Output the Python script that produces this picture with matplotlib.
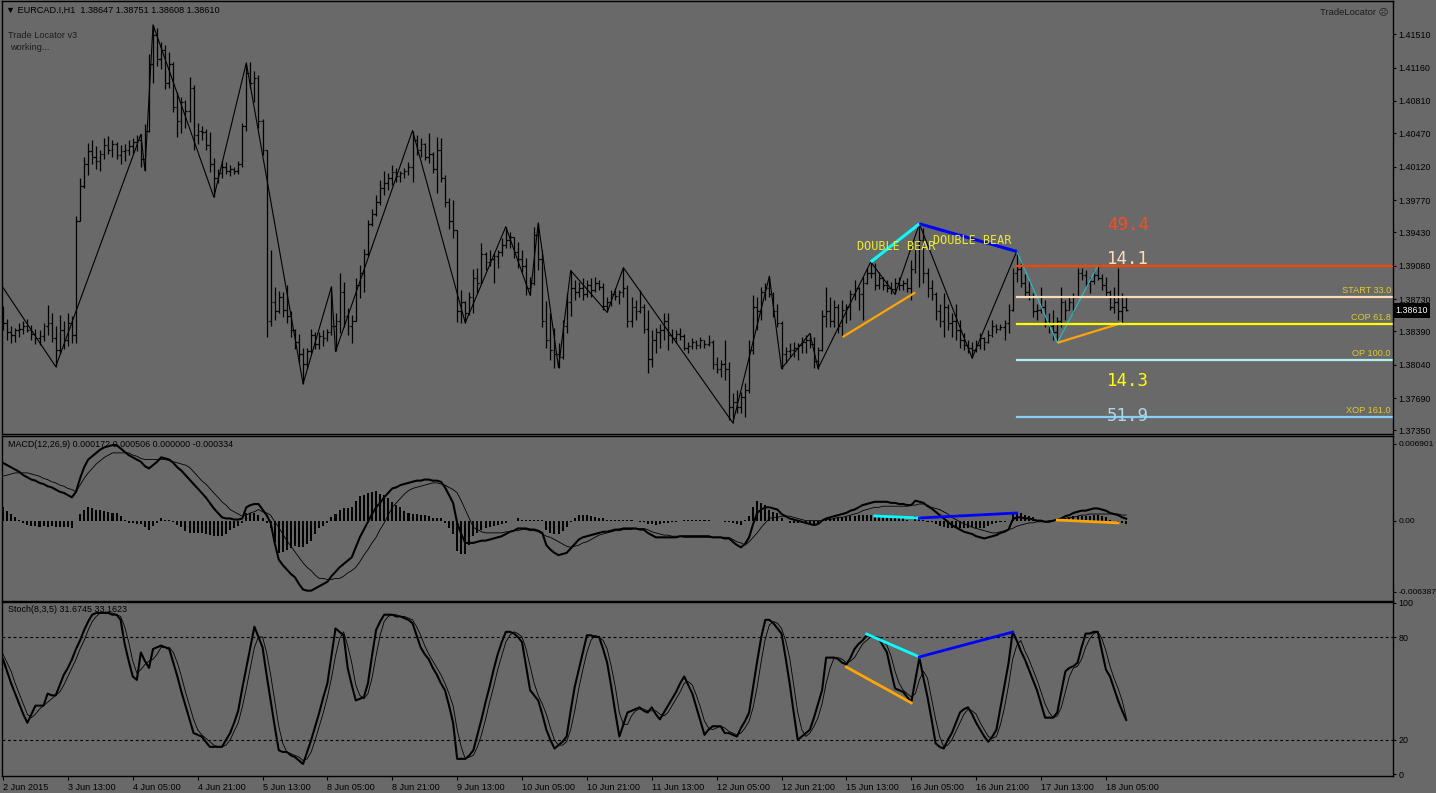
import numpy as np
import matplotlib.pyplot as plt
from matplotlib.collections import LineCollection
from matplotlib.transforms import blended_transform_factory

W, H = 1436, 793
BG = '#696969'

# ---- price data, in pips above 1.3000 (861.0 -> 1.38610), one entry per H1 bar
highs_pips = [
    866, 852, 845, 843, 848, 850, 852, 846, 842, 840,
    848, 867, 858, 845, 856, 850, 858, 855, 960, 1000,
    1022, 1037, 1040, 1034, 1030, 1042, 1044, 1040, 1038, 1035,
    1036, 1040, 1042, 1045, 1046, 1057, 1130, 1161, 1158, 1143,
    1140, 1132, 1122, 1090, 1085, 1082, 1106, 1098, 1058, 1055,
    1052, 1048, 1021, 1010, 1019, 1017, 1014, 1012, 1018, 1058,
    1121, 1122, 1112, 1108, 1062, 1030, 924, 886, 881, 880,
    888, 860, 842, 836, 822, 822, 842, 838, 838, 841,
    842, 886, 858, 900, 891, 864, 856, 895, 909, 926,
    956, 968, 982, 998, 1008, 1005, 1014, 1011, 1008, 1011,
    1017, 1050, 1045, 1042, 1037, 1047, 1027, 1043, 1042, 1003,
    979, 977, 946, 882, 871, 880, 905, 906, 932, 922,
    924, 921, 925, 937, 949, 943, 938, 933, 924, 916,
    896, 949, 953, 924, 871, 858, 843, 827, 851, 879,
    903, 893, 891, 895, 893, 895, 896, 893, 890, 875,
    882, 885, 883, 906, 888, 875, 872, 882, 868, 861,
    840, 843, 847, 858, 858, 842, 840, 843, 836, 828,
    832, 830, 833, 830, 835, 830, 812, 809, 830, 807,
    774, 777, 775, 785, 830, 877, 875, 886, 890, 897,
    880, 868, 850, 823, 827, 828, 827, 833, 835, 837,
    833, 823, 861, 886, 875, 872, 868, 872, 868, 882,
    893, 886, 896, 906, 912, 911, 901, 896, 893, 891,
    895, 896, 893, 895, 914, 935, 952, 948, 906, 893,
    880, 868, 879, 868, 858, 868, 851, 837, 830, 828,
    830, 837, 833, 840, 851, 847, 847, 851, 868, 906,
    923, 913, 899, 893, 879, 868, 886, 872, 858, 861,
    854, 886, 872, 875, 879, 906, 906, 903, 896, 903,
    908, 899, 896, 882, 886, 906, 879, 875.1]
lows_pips = [
    840, 830, 827, 828, 833, 836, 838, 830, 826, 825,
    829, 835, 828, 802, 815, 821, 824, 827, 827, 955,
    990, 1003, 1015, 1010, 1008, 1020, 1025, 1022, 1020, 1015,
    1018, 1024, 1026, 1028, 1012, 1008, 1048, 1100, 1118, 1115,
    1094, 1095, 1069, 1043, 1047, 1053, 1059, 1030, 1036, 1040,
    1030, 1006, 980, 995, 1000, 1004, 1002, 1004, 1004, 1012,
    1050, 1095, 1080, 1053, 1024, 833, 845, 851, 858, 854,
    848, 833, 821, 807, 784, 800, 816, 821, 821, 824,
    829, 835, 818, 837, 844, 835, 827, 850, 874, 880,
    918, 950, 960, 972, 982, 988, 993, 996, 996, 1000,
    1003, 996, 1024, 1022, 1019, 1016, 1005, 984, 996, 970,
    947, 937, 849, 848, 848, 856, 858, 879, 890, 903,
    908, 890, 906, 918, 927, 927, 916, 906, 901, 877,
    877, 888, 903, 844, 822, 809, 801, 801, 810, 837,
    855, 872, 875, 872, 875, 875, 880, 882, 861, 859,
    866, 872, 868, 875, 844, 844, 851, 858, 837, 795,
    802, 816, 822, 830, 819, 827, 827, 830, 819, 816,
    821, 821, 822, 822, 824, 800, 795, 791, 788, 746,
    743, 753, 753, 749, 774, 815, 840, 851, 872, 875,
    854, 844, 800, 806, 812, 812, 809, 816, 816, 822,
    801, 800, 818, 844, 844, 844, 837, 833, 848, 851,
    872, 861, 851, 889, 895, 883, 884, 883, 880, 878,
    878, 883, 883, 880, 872, 900, 886, 890, 875, 872,
    851, 844, 833, 840, 833, 830, 822, 819, 816, 811,
    817, 821, 819, 827, 833, 837, 840, 830, 837, 860,
    891, 886, 875, 872, 854, 851, 858, 844, 837, 830,
    827, 844, 851, 861, 858, 875, 893, 886, 879, 889,
    893, 883, 875, 861, 858, 851, 848, 860.8]
closes_pips = [
    848, 838, 835, 840, 842, 845, 841, 836, 832, 834,
    845, 848, 832, 820, 840, 830, 848, 835, 955, 992,
    1015, 1028, 1022, 1018, 1025, 1035, 1030, 1036, 1024, 1028,
    1030, 1034, 1038, 1040, 1020, 1050, 1120, 1150, 1125, 1135,
    1100, 1120, 1075, 1060, 1080, 1070, 1095, 1045, 1050, 1048,
    1035, 1015, 1000, 1005, 1012, 1008, 1010, 1008, 1015, 1055,
    1110, 1100, 1105, 1060, 1030, 850, 870, 860, 875, 862,
    855, 840, 828, 815, 805, 818, 835, 826, 834, 832,
    838, 845, 850, 880, 855, 845, 850, 888, 900, 920,
    952, 962, 975, 990, 995, 1000, 1006, 1002, 1005, 1008,
    1012, 1040, 1030, 1036, 1022, 1025, 1010, 1030, 1000, 975,
    955, 945, 860, 870, 858, 875, 895, 890, 920, 912,
    915, 918, 922, 930, 935, 938, 922, 915, 908, 885,
    890, 940, 915, 850, 830, 820, 815, 812, 845, 870,
    885, 880, 885, 878, 888, 882, 890, 886, 866, 870,
    878, 876, 880, 885, 850, 865, 860, 865, 842, 810,
    830, 838, 840, 850, 835, 832, 836, 834, 822, 824,
    828, 825, 830, 826, 828, 805, 800, 805, 800, 760,
    765, 760, 770, 778, 820, 865, 860, 880, 885, 878,
    860, 848, 815, 818, 820, 822, 825, 828, 830, 826,
    808, 820, 855, 860, 850, 865, 845, 862, 865, 878,
    885, 878, 890, 900, 900, 888, 895, 888, 885, 884,
    890, 888, 890, 885, 905, 930, 935, 900, 885, 878,
    860, 850, 865, 848, 850, 840, 830, 825, 822, 820,
    825, 832, 828, 835, 845, 842, 844, 848, 862, 900,
    905, 890, 880, 876, 860, 862, 865, 850, 845, 838,
    850, 870, 862, 870, 875, 900, 898, 890, 892, 898,
    895, 888, 880, 865, 870, 860, 864.7, 861.0]
first_open_pips = 855  # every later bar opens at the previous close

# ---- MACD(12,26,9), in units of 1e-4
macd_main = [
    52, 50, 48, 46, 44, 41, 39, 37, 36, 34,
    33, 31, 30, 28, 26, 25, 23, 21, 26, 38,
    48, 55, 58, 61, 64, 66, 67, 68, 68, 65,
    62, 59, 57, 55, 53, 49, 47, 50, 53, 57,
    56, 55, 52, 48, 45, 41, 37, 33, 29, 25,
    21, 16, 11, 7, 3, 2, 2, 1, 1, 2,
    12, 14, 15, 15, 10, 5, -2, -20, -35, -40,
    -44, -48, -51, -57, -62, -63, -63, -61, -59, -57,
    -55, -50, -46, -42, -39, -36, -33, -24, -15, -8,
    -1, 6, 12, 16, 21, 25, 29, 30, 32, 33,
    34, 35, 36, 36, 37, 37, 36, 36, 35, 30,
    23, 16, -2, -12, -20, -20, -20, -19, -18, -18,
    -17, -16, -15, -14, -12, -10, -9, -7, -7, -7,
    -8, -8, -9, -11, -22, -26, -29, -31, -30, -29,
    -25, -21, -17, -15, -14, -13, -12, -11, -10, -10,
    -9, -8, -8, -7, -7, -7, -7, -8, -8, -11,
    -13, -15, -15, -15, -15, -15, -15, -14, -14, -14,
    -14, -14, -14, -14, -14, -15, -15, -15, -16, -16,
    -19, -22, -24, -21, -15, -3, 7, 10, 12, 12,
    11, 10, 6, 4, 2, 1, 0, -1, -2, -3,
    -4, -3, 0, 2, 3, 4, 5, 6, 7, 9,
    10, 12, 14, 15, 16, 17, 17, 17, 17, 16,
    16, 15, 15, 14, 14, 18, 17, 16, 13, 11,
    8, 5, 2, -1, -4, -6, -8, -10, -11, -12,
    -14, -15, -16, -15, -14, -13, -11, -10, -8, 1,
    3, 3, 2, 2, 1, 0, 0, -1, -1, 0,
    1, 2, 4, 5, 7, 8, 9, 9, 10, 11,
    11, 10, 9, 7, 6, 5, 3, 1.72]
macd_signal = [
    40, 41, 42, 43, 43, 43, 43, 42, 41, 40,
    38, 37, 35, 34, 32, 31, 29, 28, 26, 32,
    38, 43, 47, 51, 54, 57, 59, 61, 61, 61,
    61, 61, 59, 58, 56, 55, 55, 55, 55, 55,
    55, 54, 53, 52, 51, 50, 48, 44, 40, 36,
    33, 29, 25, 21, 17, 14, 10, 8, 6, 4,
    5, 7, 8, 10, 8, 7, 5, -1, -6, -12,
    -18, -23, -28, -33, -38, -42, -45, -49, -52, -52,
    -53, -53, -52, -52, -50, -47, -45, -42, -37, -31,
    -26, -20, -15, -8, -2, 5, 12, 16, 20, 24,
    27, 29, 30, 31, 32, 33, 34, 34, 33, 32,
    30, 28, 25, 18, 10, 2, -6, -8, -10, -11,
    -11, -11, -11, -11, -10, -10, -9, -9, -8, -8,
    -9, -9, -10, -12, -14, -15, -17, -19, -21, -23,
    -24, -23, -22, -20, -19, -17, -15, -13, -12, -11,
    -10, -9, -9, -8, -8, -8, -7, -7, -7, -8,
    -10, -11, -12, -13, -13, -14, -14, -14, -15, -15,
    -15, -15, -15, -15, -15, -15, -15, -15, -15, -15,
    -17, -19, -20, -22, -19, -15, -11, -6, -2, 2,
    3, 3, 4, 4, 4, 3, 2, 1, 0, 0,
    0, 0, 0, 1, 1, 2, 3, 3, 4, 5,
    6, 7, 9, 10, 11, 12, 12, 13, 13, 13,
    13, 13, 13, 13, 14, 14, 15, 15, 14, 12,
    11, 10, 8, 6, 3, 1, -1, -3, -4, -6,
    -7, -8, -9, -10, -11, -11, -10, -9, -8, -7,
    -5, -4, -3, -2, -2, -1, -1, -1, 0, 0,
    1, 1, 2, 3, 3, 4, 5, 5, 6, 6,
    6, 6, 6, 6, 6, 6, 5, 5.06]

# ---- Stochastic(8,3,5)
stoch_main = [
    67, 60, 53, 47, 41, 35, 30, 35, 40, 40,
    40, 47, 46, 46, 52, 58, 62, 67, 73, 78,
    84, 89, 93, 94, 94, 94, 94, 93, 93, 90,
    76, 66, 57, 55, 71, 66, 62, 73, 74, 75,
    74, 73, 65, 57, 48, 40, 32, 24, 23, 22,
    19, 16, 16, 16, 16, 20, 24, 30, 37, 50,
    62, 74, 86, 80, 74, 58, 43, 28, 14, 13,
    13, 11, 10, 8, 6, 13, 20, 28, 36, 45,
    53, 69, 85, 83, 81, 62, 52, 43, 44, 45,
    53, 69, 84, 89, 93, 93, 93, 92, 92, 91,
    90, 88, 81, 74, 70, 67, 62, 58, 53, 49,
    40, 30, 9, 9, 9, 11, 14, 23, 32, 42,
    51, 61, 70, 77, 83, 83, 82, 80, 77, 63,
    49, 46, 43, 35, 26, 20, 15, 17, 19, 22,
    37, 51, 61, 71, 81, 81, 80, 80, 73, 65,
    51, 36, 22, 29, 36, 37, 38, 39, 37, 36,
    39, 35, 32, 36, 40, 44, 48, 53, 57, 52,
    47, 39, 31, 23, 26, 28, 28, 28, 24, 24,
    23, 22, 27, 31, 36, 51, 66, 80, 90, 90,
    88, 85, 82, 68, 53, 36, 20, 22, 24, 26,
    33, 41, 49, 68, 68, 68, 67, 65, 64, 68,
    73, 76, 78, 81, 80, 80, 79, 75, 71, 60,
    50, 49, 48, 45, 42, 55, 68, 56, 45, 32,
    18, 16, 15, 20, 24, 30, 36, 38, 39, 35,
    30, 26, 22, 19, 22, 26, 39, 52, 65, 83,
    78, 72, 67, 61, 55, 49, 41, 33, 33, 33,
    36, 48, 60, 62, 63, 65, 74, 82, 82, 83,
    83, 72, 61, 57, 50, 43, 37, 31.67]
stoch_signal = [
    70, 65, 60, 53, 47, 41, 35, 33, 35, 38,
    40, 42, 44, 46, 48, 52, 57, 62, 67, 73,
    78, 84, 89, 92, 94, 94, 94, 94, 93, 92,
    86, 77, 66, 59, 61, 64, 66, 67, 70, 74,
    74, 74, 71, 65, 57, 48, 40, 32, 26, 23,
    21, 19, 17, 16, 16, 17, 20, 25, 30, 39,
    50, 62, 74, 80, 80, 71, 58, 43, 28, 18,
    13, 12, 11, 10, 8, 9, 13, 20, 28, 36,
    45, 56, 69, 79, 83, 75, 65, 52, 46, 44,
    47, 56, 69, 81, 89, 92, 93, 93, 92, 92,
    91, 90, 86, 81, 75, 70, 66, 62, 58, 53,
    47, 40, 26, 16, 9, 10, 11, 16, 23, 32,
    42, 51, 61, 69, 77, 81, 83, 82, 80, 73,
    63, 53, 46, 41, 35, 27, 20, 17, 17, 19,
    26, 37, 50, 61, 71, 78, 81, 80, 78, 73,
    63, 51, 36, 29, 29, 34, 37, 38, 38, 37,
    37, 37, 35, 34, 36, 40, 44, 48, 53, 54,
    52, 46, 39, 31, 27, 26, 27, 28, 27, 25,
    24, 23, 24, 27, 31, 39, 51, 66, 79, 87,
    89, 88, 85, 78, 68, 52, 36, 26, 22, 24,
    28, 33, 41, 53, 62, 68, 68, 67, 65, 66,
    68, 72, 76, 78, 80, 80, 80, 78, 75, 69,
    60, 53, 49, 47, 45, 47, 55, 60, 56, 44,
    32, 22, 16, 17, 20, 25, 30, 35, 38, 37,
    35, 30, 26, 22, 21, 22, 29, 39, 52, 67,
    75, 78, 72, 67, 61, 55, 48, 41, 36, 33,
    34, 39, 48, 57, 62, 63, 67, 74, 79, 82,
    83, 79, 72, 63, 56, 50, 43, 33.16]

# ---- zigzag swing points (bar index, pips)
zz_idx = [0, 13, 34, 35, 37, 52, 60, 74, 81, 82, 101, 114, 124, 130, 132, 137,
          140, 149, 153, 180, 189, 192, 199, 201, 214, 220, 226, 239, 250]
zz_pips = [885, 802, 1046, 1008, 1161, 980, 1121, 784, 886, 818, 1050, 848, 949, 877,
           953, 801, 903, 859, 906, 743, 897, 800, 837, 800, 912, 878, 952, 811, 923]
cd_idx = [250, 260, 270]            # current swing (thin cyan)
cd_pips = [923, 827, 908]

# pattern legs (bar index pairs, value pairs)
price_legs = {'cyan': ([214, 226], [912, 952]), 'blue': ([226, 250], [952, 923]),
              'orange1': ([207, 225], [833, 880]), 'orange2': ([260, 276], [827, 848])}
macd_legs = {'cyan': ([215, 226], [4.2, 2.4]), 'blue': ([226, 250], [2.4, 6.9]),
             'orange': ([260, 275], [0.6, -2.0])}
stoch_legs = {'cyan': ([213, 226], [81.7, 68.4]), 'blue': ([226, 249], [68.4, 82.9]),
              'orange': ([208, 224], [62.5, 41.6])}

# target levels (pips) drawn from the last swing high
level_pips = [908, 875, 847, 809, 749]
level_names = ['', 'START 33.0', 'COP 61.8', 'OP 100.0', 'XOP 161.0']
level_colors = ['#ff4500', '#ffdab9', '#ffff00', '#b4eef0', '#87cefa']
level_start = 250

big_texts = ['49.4', '14.1', '14.3', '51.9']
big_pips = [951, 915, 787, 750]
big_colors = ['#ff4a1c', '#ffdab9', '#ffff00', '#add8e6']

time_labels = ['2 Jun 2015', '3 Jun 13:00', '4 Jun 05:00', '4 Jun 21:00', '5 Jun 13:00',
               '8 Jun 05:00', '8 Jun 21:00', '9 Jun 13:00', '10 Jun 05:00', '10 Jun 21:00',
               '11 Jun 13:00', '12 Jun 05:00', '12 Jun 21:00', '15 Jun 13:00',
               '16 Jun 05:00', '16 Jun 21:00', '17 Jun 13:00', '18 Jun 05:00']
price_ticks = [1.41510, 1.41160, 1.40810, 1.40470, 1.40120, 1.39770, 1.39430,
               1.39080, 1.38730, 1.38390, 1.38040, 1.37690, 1.37350]

n = len(closes_pips)
for arr in (highs_pips, lows_pips, macd_main, macd_signal, stoch_main, stoch_signal):
    assert len(arr) == n, len(arr)

def px(p):
    return 1.3 + np.asarray(p, dtype=float) / 1e4

hi, lo, cl = px(highs_pips), px(lows_pips), px(closes_pips)
op = np.concatenate([[px(first_open_pips)], cl[:-1]])
idx = np.arange(n)

plt.rcParams['font.family'] = ['Liberation Sans', 'DejaVu Sans']
fig = plt.figure(figsize=(W / 100, H / 100), dpi=100, facecolor=BG)

def rect(top, bottom):
    return [2 / W, 1 - bottom / H, 1391 / W, (bottom - top) / H]

ax_p = fig.add_axes(rect(1, 434))
ax_m = fig.add_axes(rect(436, 601))
ax_s = fig.add_axes(rect(602, 776))
XL = (-0.25, 342.8)
for ax in (ax_p, ax_m, ax_s):
    ax.set_facecolor(BG)
    ax.set_xlim(*XL)
    for sp in ax.spines.values():
        sp.set_color('black')
        sp.set_linewidth(1.0)
    ax.yaxis.tick_right()
    ax.tick_params(axis='y', direction='out', length=2.5, width=0.8, labelsize=6.4,
                   pad=1.5, colors='black')
    ax.tick_params(axis='x', bottom=False, labelbottom=False)

# ---- price panel
segs = []
for i in idx:
    segs.append([(i, lo[i]), (i, hi[i])])
    segs.append([(i - 0.45, op[i]), (i, op[i])])
    segs.append([(i, cl[i]), (i + 0.45, cl[i])])
ax_p.add_collection(LineCollection(segs, colors='black', linewidths=0.9))
ax_p.plot(zz_idx, px(zz_pips), color='black', lw=0.8)
ax_p.plot(cd_idx, px(cd_pips), color='#2ab5c0', lw=0.9)
leg_col = {'cyan': '#00ffff', 'blue': '#0000ff', 'orange1': '#ffa500',
           'orange2': '#ffa500', 'orange': '#ffa500'}
for k, (xs, ys) in price_legs.items():
    ax_p.plot(xs, px(ys), color=leg_col[k], lw=2.2 if 'orange' not in k else 1.6,
              solid_capstyle='butt')
for val, name, c in zip(level_pips, level_names, level_colors):
    ax_p.plot([level_start, XL[1]], [px(val)] * 2, color=c, lw=1.6)
    if name:
        ax_p.text(342.3, px(val + 6.5), name, ha='right', va='center', fontsize=6.6,
                  color='#dccb2e')
for t, v, c in zip(big_texts, big_pips, big_colors):
    ax_p.text(272.2, px(v), t, ha='left', va='center', fontsize=12.5, color=c,
              family='DejaVu Sans Mono')
ax_p.text(210.6, px(927.7), 'DOUBLE BEAR', ha='left', va='center', fontsize=8.5,
          color='#ecec2c', family='DejaVu Sans Mono')
ax_p.text(229.3, px(934), 'DOUBLE BEAR', ha='left', va='center', fontsize=8.5,
          color='#ecec2c', family='DejaVu Sans Mono')
ax_p.set_ylim(1.37313, 1.41860)
ax_p.set_yticks(price_ticks)
ax_p.set_yticklabels(['%.5f' % t for t in price_ticks])
trans = blended_transform_factory(ax_p.transAxes, ax_p.transData)
ax_p.text(1.0016, cl[-1], '%.5f' % cl[-1], transform=trans, ha='left', va='center',
          fontsize=6.4, color='white', clip_on=False,
          bbox=dict(boxstyle='square,pad=0.3', fc='black', ec='none'))

# ---- MACD panel
mm = np.asarray(macd_main, dtype=float) * 1e-4
ms = np.asarray(macd_signal, dtype=float) * 1e-4
ax_m.bar(idx, mm - ms, width=0.5, color='black', linewidth=0)
ax_m.plot(idx, mm, color='black', lw=1.5)
ax_m.plot(idx, ms, color='black', lw=0.6)
for k, (xs, ys) in macd_legs.items():
    ax_m.plot(xs, np.asarray(ys) * 1e-4, color=leg_col[k], lw=2.0)
ax_m.set_ylim(-72.3e-4, 76.2e-4)
ax_m.set_yticks([0.006901, 0.0, -0.006387])
ax_m.set_yticklabels(['0.006901', '0.00', '-0.006387'])
ax_m.tick_params(axis='y', labelsize=6.0)

# ---- Stochastic panel
ax_s.plot(idx, stoch_main, color='black', lw=1.5)
ax_s.plot(idx, stoch_signal, color='black', lw=0.6)
for lvl in (80, 20):
    ax_s.axhline(lvl, color='black', lw=0.8, ls=(0, (2.5, 2.5)))
for k, (xs, ys) in stoch_legs.items():
    ax_s.plot(xs, ys, color=leg_col[k], lw=2.0)
ax_s.set_ylim(-1.0, 100.4)
ax_s.set_yticks([100, 80, 20, 0])
ax_s.set_yticklabels(['100', '80', '20', '0'])
ax_s.tick_params(axis='x', bottom=True, labelbottom=True, direction='out', length=3,
                 width=0.8, labelsize=6.6, pad=2, colors='black')
ax_s.set_xticks(np.arange(0, n, 16))
ax_s.set_xticklabels(time_labels, ha='left')

# ---- header texts
fig.text(6 / W, 1 - 10 / H, '\u25bc EURCAD.I,H1  1.38647 1.38751 1.38608 1.38610',
         fontsize=6.6, va='center', color='black')
fig.text(8 / W, 1 - 35 / H, 'Trade Locator v3', fontsize=6.6, va='center', color='#1c1c1c')
fig.text(10 / W, 1 - 47 / H, 'working...', fontsize=6.6, va='center', color='#1c1c1c')
fig.text(1389 / W, 1 - 12 / H, 'TradeLocator \u2639', fontsize=6.8, ha='right',
         va='center', color='#1c1c1c')
fig.text(8 / W, 1 - 445 / H, 'MACD(12,26,9) 0.000172 0.000506 0.000000 -0.000334',
         fontsize=6.4, va='center', color='black')
fig.text(8 / W, 1 - 610 / H, 'Stoch(8,3,5) 31.6745 33.1623', fontsize=6.4, va='center',
         color='black')

fig.savefig('out.png', dpi=100, facecolor=BG)
